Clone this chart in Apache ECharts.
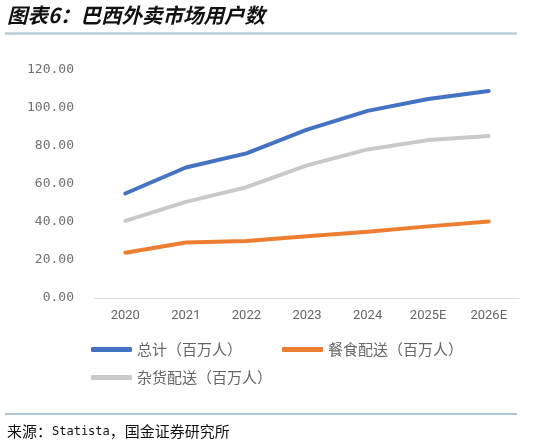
<!DOCTYPE html>
<html>
<head>
<meta charset="utf-8">
<script src="https://cdn.jsdelivr.net/npm/echarts@6/dist/echarts.min.js"></script>
<style>
  html, body { margin: 0; padding: 0; background: #fff; }
  #main { width: 541px; height: 446px; }
</style>
</head>
<body>
<div id="main"></div>
<script>
// 巴西外卖市场用户数（百万人）
var years = ["2020", "2021", "2022", "2023", "2024", "2025E", "2026E"];
var totalUsers = [55.0, 68.7, 76.1, 88.6, 98.5, 104.7, 108.9];
var foodUsers = [23.8, 29.2, 30.0, 32.5, 34.9, 37.7, 40.3];
var groceryUsers = [40.6, 50.6, 58.3, 69.8, 78.2, 83.1, 85.2];
var yTicks = [0, 20, 40, 60, 80, 100, 120];

var seriesNames = ["总计（百万人）", "餐食配送（百万人）", "杂货配送（百万人）"];
var seriesColors = ["#4472C4", "#ED7D31", "#C9C9C9"];

var myChart = echarts.init(document.getElementById("main"));

var legendText = { color: "#666", fontSize: 15, fontFamily: "Noto Sans CJK SC" };

var option = {
  animation: false,
  backgroundColor: "#fff",
  color: seriesColors,
  title: {
    text: "图表6：巴西外卖市场用户数",
    left: 7,
    top: 5,
    padding: 0,
    textStyle: {
      fontSize: 20.5,
      fontWeight: "bold",
      fontStyle: "italic",
      color: "#111",
      fontFamily: "Noto Sans CJK SC"
    }
  },
  graphic: [
    {
      type: "line",
      shape: { x1: 5, y1: 33.5, x2: 517, y2: 33.5 },
      style: { stroke: "#B9CCD9", lineWidth: 2.5 }
    },
    {
      type: "line",
      shape: { x1: 5, y1: 414, x2: 517, y2: 414 },
      style: { stroke: "#5A8FA8", lineWidth: 1.2 }
    },
    {
      type: "text",
      left: 7,
      top: 424,
      style: {
        text: "{c|来源：}{m|Statista}{c|，国金证券研究所}",
        fill: "#111",
        rich: {
          c: { fontSize: 15, fontFamily: "Noto Sans CJK SC", fill: "#111" },
          m: { fontSize: 12, fontFamily: "DejaVu Sans Mono", fill: "#111" }
        }
      }
    }
  ],
  legend: [
    {
      data: [seriesNames[0], seriesNames[1]],
      left: 91,
      top: 342,
      padding: 0,
      itemWidth: 41,
      itemHeight: 5,
      itemGap: 40,
      icon: "roundRect",
      textStyle: legendText
    },
    {
      data: [seriesNames[2]],
      left: 91,
      top: 370,
      padding: 0,
      itemWidth: 41,
      itemHeight: 5,
      icon: "roundRect",
      textStyle: legendText
    }
  ],
  grid: {
    left: 95,
    right: 22,
    top: 70,
    bottom: 148,
    containLabel: false
  },
  xAxis: {
    type: "category",
    data: years,
    boundaryGap: true,
    axisLine: { lineStyle: { color: "#D9D9D9", width: 1 } },
    axisTick: { show: false },
    axisLabel: {
      color: "#666",
      fontSize: 13,
      margin: 11,
      fontFamily: "Roboto"
    }
  },
  yAxis: {
    type: "value",
    min: yTicks[0],
    max: yTicks[yTicks.length - 1],
    interval: 20,
    axisLine: { show: false },
    axisTick: { show: false },
    splitLine: { show: false },
    axisLabel: {
      color: "#707070",
      fontSize: 13,
      margin: 21,
      fontFamily: "DejaVu Sans Mono",
      formatter: function (v) { return v.toFixed(2); }
    }
  },
  series: [
    {
      name: seriesNames[0],
      type: "line",
      data: totalUsers,
      symbol: "none",
      lineStyle: { width: 4, cap: "round", join: "round" },
      z: 3
    },
    {
      name: seriesNames[1],
      type: "line",
      data: foodUsers,
      symbol: "none",
      lineStyle: { width: 4, cap: "round", join: "round" },
      z: 2
    },
    {
      name: seriesNames[2],
      type: "line",
      data: groceryUsers,
      symbol: "none",
      lineStyle: { width: 4, cap: "round", join: "round" },
      z: 1
    }
  ]
};

myChart.setOption(option);
</script>
</body>
</html>
